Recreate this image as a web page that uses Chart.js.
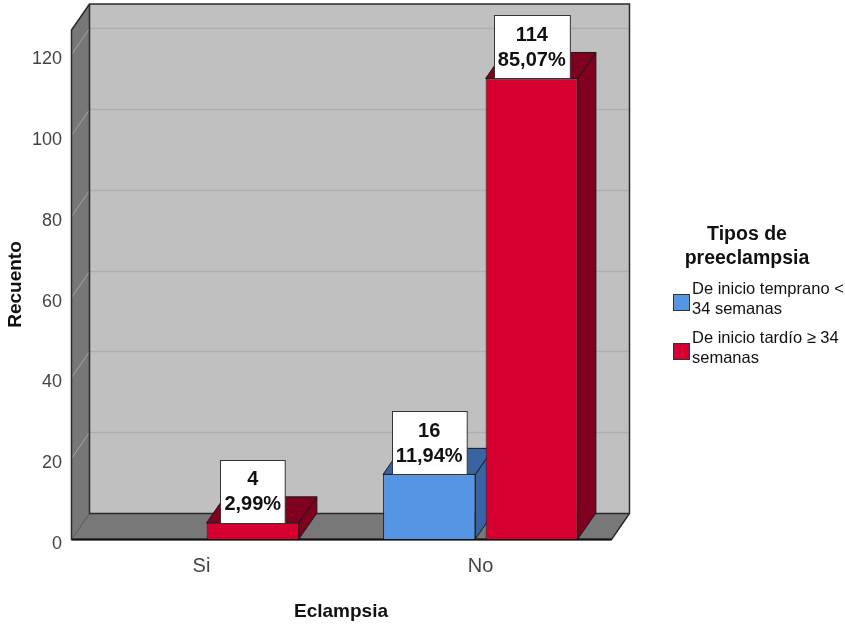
<!DOCTYPE html>
<html lang="es">
<head>
<meta charset="utf-8">
<title>Eclampsia por tipo de preeclampsia</title>
<script src="https://cdn.jsdelivr.net/npm/chart.js@4.4.1/dist/chart.umd.min.js"></script>
<style>
  html, body { margin: 0; padding: 0; background: #ffffff; }
  #wrap { position: relative; width: 845px; height: 626px; }
  #chart { position: absolute; left: 0; top: 0; }
  .legend { position: absolute; left: 672px; top: 221px; width: 173px; font-family: "Liberation Sans", Arial, sans-serif; color: #111; }
  .legend .title { font-weight: bold; font-size: 19.5px; line-height: 24px; text-align: center; width: 190px; margin-left: -20px; }
  .legend .item { position: relative; padding-left: 20px; font-size: 16.5px; line-height: 20px; margin-top: 9px; }
  .legend .sw { position: absolute; left: 1px; top: 16px; width: 15px; height: 15px; border: 1px solid #333; }
</style>
</head>
<body>
<div id="wrap">
  <canvas id="chart" width="845" height="626"></canvas>
  <div class="legend">
    <div class="title">Tipos de<br>preeclampsia</div>
    <div class="item" style="margin-top:9px"><span class="sw" style="background:#5596E4"></span>De inicio temprano &lt;<br>34 semanas</div>
    <div class="item"><span class="sw" style="background:#D5002F"></span>De inicio tardío ≥ 34<br>semanas</div>
  </div>
</div>
<script>
// Eclampsia (Si / No) split by type of preeclampsia, counts of patients
const categories = ['Si', 'No'];
const seriesNames = ['De inicio temprano < 34 semanas', 'De inicio tardío ≥ 34 semanas'];
const earlyOnset = [null, 16];
const lateOnset = [4, 114];
const yTicks = [0, 20, 40, 60, 80, 100, 120];

const frontColors = ['#5596E4', '#D5002F'];
const sideColors = ['#3A63A4', '#80001F'];

// total of all counts, used for the percentage under each count
const total = [...earlyOnset, ...lateOnset].reduce((s, v) => s + (v || 0), 0);

// depth of the pseudo-3D box
const DX = 18, DY = 26;

function poly(ctx, pts, fill, stroke) {
  ctx.beginPath();
  ctx.moveTo(pts[0][0], pts[0][1]);
  for (let i = 1; i < pts.length; i++) ctx.lineTo(pts[i][0], pts[i][1]);
  ctx.closePath();
  if (fill) { ctx.fillStyle = fill; ctx.fill(); }
  if (stroke) { ctx.strokeStyle = stroke; ctx.lineWidth = 1; ctx.stroke(); }
}

const boxPlugin = {
  id: 'box3d',
  beforeDatasetsDraw(chart) {
    const ctx = chart.ctx;
    const y = chart.scales.y;
    const L = chart.chartArea.left + 9.5, R = chart.chartArea.right - 8.5;
    const T = chart.chartArea.top, B = y.getPixelForValue(0) + 0.5;
    ctx.save();
    // back wall
    poly(ctx, [[L + DX, T - DY], [R + DX, T - DY], [R + DX, B - DY], [L + DX, B - DY]], '#C0C0C0', null);
    // left wall
    poly(ctx, [[L, T], [L + DX, T - DY], [L + DX, B - DY], [L, B]], '#777777', null);
    // floor
    poly(ctx, [[L, B], [L + DX, B - DY], [R + DX, B - DY], [R, B]], '#787878', null);
    // grid lines on both walls
    yTicks.forEach(v => {
      if (v === 0) return;
      const py = Math.round(y.getPixelForValue(v)) + 0.5;
      ctx.strokeStyle = '#AEAEAE'; ctx.lineWidth = 1.5;
      ctx.beginPath(); ctx.moveTo(L + DX, py - DY); ctx.lineTo(R + DX, py - DY); ctx.stroke();
      ctx.strokeStyle = '#A4A4A4'; ctx.lineWidth = 1;
      ctx.beginPath(); ctx.moveTo(L, py); ctx.lineTo(L + DX, py - DY); ctx.stroke();
    });
    // wall edges
    ctx.strokeStyle = '#2a2a2a'; ctx.lineWidth = 1.5;
    ctx.beginPath();
    ctx.moveTo(L, B); ctx.lineTo(L, T); ctx.lineTo(L + DX, T - DY); ctx.lineTo(R + DX, T - DY);
    ctx.lineTo(R + DX, B - DY); ctx.lineTo(R, B); ctx.closePath();
    ctx.moveTo(L + DX, T - DY); ctx.lineTo(L + DX, B - DY); ctx.lineTo(R + DX, B - DY);
    ctx.stroke();
    ctx.strokeStyle = '#555'; ctx.lineWidth = 1;
    ctx.beginPath(); ctx.moveTo(L, B); ctx.lineTo(L + DX, B - DY); ctx.stroke();
    ctx.strokeStyle = '#111'; ctx.lineWidth = 2;
    ctx.beginPath(); ctx.moveTo(L, B); ctx.lineTo(R, B); ctx.stroke();

    // top and side faces of every bar, drawn before the fronts
    chart.data.datasets.forEach((ds, di) => {
      const meta = chart.getDatasetMeta(di);
      meta.data.forEach((bar, i) => {
        if (ds.data[i] == null) return;
        const x0 = bar.x - bar.width / 2, x1 = bar.x + bar.width / 2;
        const top = bar.y, base = bar.base;
        poly(ctx, [[x1, top], [x1 + DX, top - DY], [x1 + DX, base - DY], [x1, base]], sideColors[di], '#1a1a1a');
        poly(ctx, [[x0, top], [x0 + DX, top - DY], [x1 + DX, top - DY], [x1, top]], sideColors[di], '#1a1a1a');
      });
    });
    ctx.restore();
  },
  afterDatasetsDraw(chart) {
    const ctx = chart.ctx;
    ctx.save();
    ctx.font = 'bold 20px "Liberation Sans", Arial, sans-serif';
    ctx.textAlign = 'center';
    ctx.textBaseline = 'middle';
    chart.data.datasets.forEach((ds, di) => {
      const meta = chart.getDatasetMeta(di);
      meta.data.forEach((bar, i) => {
        const v = ds.data[i];
        if (v == null) return;
        const l1 = String(v);
        const l2 = (v / total * 100).toFixed(2).replace('.', ',') + '%';
        const w = Math.max(ctx.measureText(l1).width, ctx.measureText(l2).width) + 8;
        const h = 63;
        const bx = Math.round(bar.x - w / 2) + 0.5, by = Math.round(bar.y - h) + 0.5;
        ctx.fillStyle = '#ffffff';
        ctx.fillRect(bx, by, w, h);
        ctx.strokeStyle = '#333'; ctx.lineWidth = 1;
        ctx.strokeRect(bx, by, w, h);
        ctx.fillStyle = '#111';
        ctx.fillText(l1, bar.x, bar.y - 43);
        ctx.fillText(l2, bar.x, bar.y - 18);
      });
    });
    ctx.restore();
  }
};

new Chart(document.getElementById('chart'), {
  type: 'bar',
  data: {
    labels: categories,
    datasets: [
      { label: seriesNames[0], data: earlyOnset, backgroundColor: frontColors[0] },
      { label: seriesNames[1], data: lateOnset, backgroundColor: frontColors[1] }
    ]
  },
  options: {
    responsive: false,
    animation: false,
    devicePixelRatio: 1,
    layout: { padding: { left: 0, right: 225, top: 30, bottom: 0 } },
    datasets: {
      bar: {
        categoryPercentage: 0.735,
        barPercentage: 0.9,
        borderColor: '#1a1a1a',
        borderWidth: 1
      }
    },
    plugins: {
      legend: { display: false },
      tooltip: { enabled: false }
    },
    scales: {
      x: {
        grid: { display: false, drawTicks: false },
        border: { display: false },
        ticks: {
          color: '#444',
          padding: 15,
          font: { family: '"Liberation Sans", Arial, sans-serif', size: 20 }
        },
        title: {
          display: true,
          text: 'Eclampsia',
          color: '#111',
          padding: { top: 0, bottom: 2.6 },
          font: { family: '"Liberation Sans", Arial, sans-serif', size: 19, weight: 'bold' }
        },
        afterFit(scale) { scale.height = 87; }
      },
      y: {
        min: 0,
        max: 126,
        afterBuildTicks(scale) { scale.ticks = yTicks.map(v => ({ value: v })); },
        grid: { display: false, drawTicks: false },
        border: { display: false },
        ticks: {
          color: '#444',
          padding: 0,
          labelOffset: 5,
          font: { family: '"Liberation Sans", Arial, sans-serif', size: 18 }
        },
        title: {
          display: true,
          text: 'Recuento',
          color: '#111',
          padding: { top: 4.6, bottom: 0 },
          font: { family: '"Liberation Sans", Arial, sans-serif', size: 19, weight: 'bold' }
        },
        afterFit(scale) { scale.width = 62; }
      }
    }
  },
  plugins: [boxPlugin]
});
</script>
</body>
</html>
